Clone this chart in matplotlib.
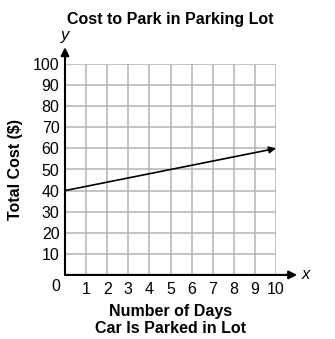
import matplotlib.pyplot as plt

plt.rcParams['font.family'] = ['Liberation Sans', 'DejaVu Sans']

# cost line (days -> dollars)
days = [0, 10]
cost = [40, 60]

x_ticks = [1, 2, 3, 4, 5, 6, 7, 8, 9, 10]
y_ticks = [10, 20, 30, 40, 50, 60, 70, 80, 90, 100]

fig = plt.figure(figsize=(3.35, 3.39), dpi=100)
ax = fig.add_axes([0.194, 0.189, 0.630, 0.622])

ax.set_xlim(0, 10)
ax.set_ylim(0, 100)
ax.set_xticks(x_ticks)
ax.set_yticks(y_ticks)
ax.grid(True, color="#b4b4b4", linewidth=1.1)
ax.set_axisbelow(True)
for s in ["top", "right", "left", "bottom"]:
    ax.spines[s].set_visible(False)
ax.tick_params(length=0, labelsize=11.5)
ax.tick_params(axis="y", pad=4)
ax.tick_params(axis="x", pad=5)

# axes with arrows
ax.annotate("", xy=(0, 108), xytext=(0, 0), annotation_clip=False,
            arrowprops=dict(arrowstyle="-|>", color="black", lw=1.5,
                            mutation_scale=12, shrinkA=0, shrinkB=0))
ax.annotate("", xy=(11.0, 0), xytext=(0, 0), annotation_clip=False,
            arrowprops=dict(arrowstyle="-|>", color="black", lw=1.5,
                            mutation_scale=12, shrinkA=0, shrinkB=0))

# the cost line
ax.annotate("", xy=(days[1], cost[1]), xytext=(days[0], cost[0]), annotation_clip=False,
            arrowprops=dict(arrowstyle="-|>", color="black", lw=1.2,
                            mutation_scale=10, shrinkA=0, shrinkB=0))

ax.text(0, 110, "y", style="italic", fontsize=12, ha="center", va="bottom")
ax.text(11.2, 0, "x", style="italic", fontsize=12, ha="left", va="center")
ax.text(-0.45, -5.7, "0", fontsize=11.5, ha="center", va="center")

ax.set_title("Cost to Park in Parking Lot", fontsize=11.5, fontweight="bold", pad=29)
ax.set_xlabel("Number of Days\nCar Is Parked in Lot", fontsize=11.5, fontweight="bold",
              labelpad=5, linespacing=1.15)
ax.set_ylabel("Total Cost ($)", fontsize=11.5, fontweight="bold", labelpad=7)

fig.savefig("out.png", dpi=100)
